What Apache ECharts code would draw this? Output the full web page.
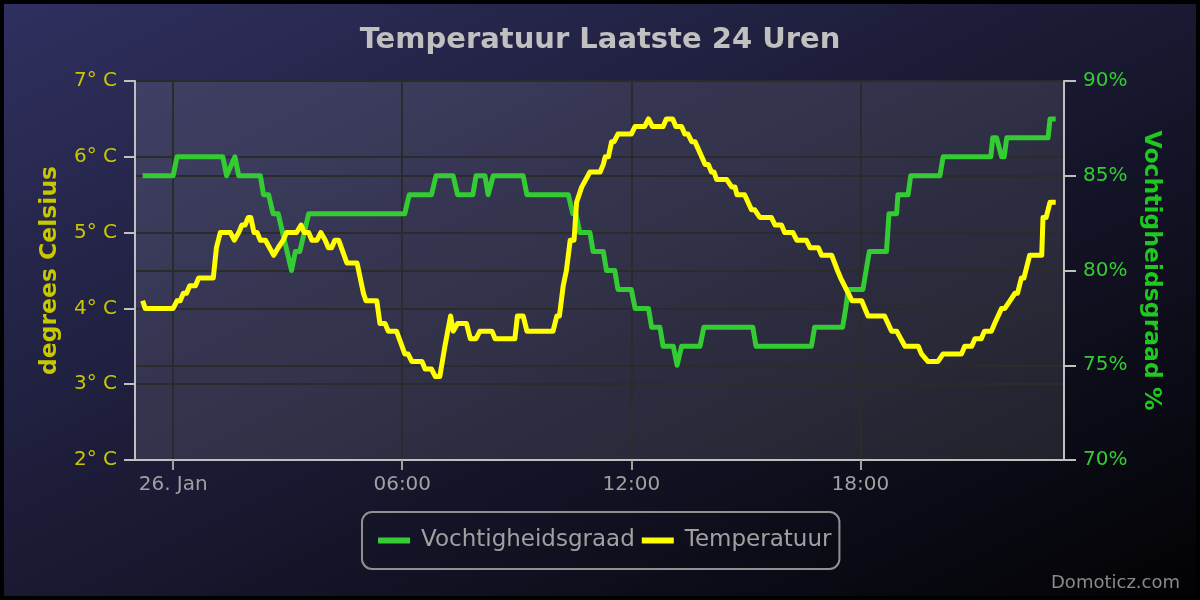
<!DOCTYPE html>
<html><head><meta charset="utf-8">
<script src="https://cdn.jsdelivr.net/npm/echarts@6/dist/echarts.min.js"></script>
<style>html,body{margin:0;padding:0;background:#000}#c{width:1200px;height:600px}</style>
</head><body><div id="c"></div>
<script>
const titleText = 'Temperatuur Laatste 24 Uren';
const creditText = 'Domoticz.com';
const seriesNames = ['Vochtigheidsgraad', 'Temperatuur'];
const leftAxisName = 'degrees Celsius';
const rightAxisName = 'Vochtigheidsgraad %';

// Temperature samples (start 25 Jan 23:12, end 26 Jan 23:07)
const tempTimes = ['23:12','23:16','00:00','00:06','00:11','00:16','00:21','00:26','00:35','00:40','01:03','01:08','01:14','01:30','01:36','01:43','01:48','01:53','01:58','02:02','02:07','02:12','02:17','02:25','02:38','02:45','02:53','02:58','03:14','03:21','03:26','03:33','03:38','03:46','03:52','03:59','04:04','04:09','04:14','04:20','04:33','04:49','04:59','05:03','05:20','05:25','05:33','05:38','05:51','06:04','06:09','06:15','06:31','06:36','06:46','06:52','06:59','07:07','07:10','07:16','07:20','07:27','07:41','07:47','07:56','08:02','08:21','08:26','08:57','09:01','09:10','09:16','09:57','10:03','10:07','10:13','10:18','10:24','10:30','10:34','10:42','10:55','11:11','11:16','11:19','11:24','11:29','11:33','11:39','12:00','12:06','12:21','12:27','12:33','12:50','12:55','13:05','13:10','13:19','13:24','13:29','13:35','13:40','13:56','14:01','14:06','14:10','14:14','14:30','14:38','14:43','14:46','14:58','15:09','15:14','15:22','15:40','15:46','15:56','16:01','16:14','16:20','16:35','16:41','16:54','16:59','17:15','17:24','17:29','17:47','18:02','18:12','18:38','18:49','18:57','19:10','19:31','19:36','19:46','20:02','20:10','20:39','20:44','20:55','21:00','21:10','21:15','21:26','21:31','21:42','21:47','21:55','22:03','22:07','22:13','22:17','22:26','22:45','22:47','22:52','22:58','23:07'];
const tempValues = [4.1,4.0,4.0,4.1,4.1,4.2,4.2,4.3,4.3,4.4,4.4,4.8,5.0,5.0,4.9,5.0,5.1,5.1,5.2,5.2,5.0,5.0,4.9,4.9,4.7,4.8,4.9,5.0,5.0,5.1,5.0,5.0,4.9,4.9,5.0,4.9,4.8,4.8,4.9,4.9,4.6,4.6,4.2,4.1,4.1,3.8,3.8,3.7,3.7,3.4,3.4,3.3,3.3,3.2,3.2,3.1,3.1,3.5,3.5,3.9,3.7,3.8,3.8,3.6,3.6,3.7,3.7,3.6,3.6,3.9,3.9,3.7,3.7,3.9,3.9,4.3,4.5,4.9,4.9,5.4,5.6,5.8,5.8,5.9,6.0,6.0,6.2,6.2,6.3,6.3,6.4,6.4,6.5,6.4,6.4,6.5,6.5,6.4,6.4,6.3,6.3,6.2,6.2,5.9,5.9,5.8,5.8,5.7,5.7,5.6,5.6,5.5,5.5,5.3,5.3,5.2,5.2,5.1,5.1,5.0,5.0,4.9,4.9,4.8,4.8,4.7,4.7,4.5,4.4,4.1,4.1,3.9,3.9,3.7,3.7,3.5,3.5,3.4,3.3,3.3,3.4,3.4,3.5,3.5,3.6,3.6,3.7,3.7,3.8,4.0,4.0,4.1,4.2,4.2,4.4,4.4,4.7,4.7,5.2,5.2,5.4,5.4];

// Humidity samples
const humTimes = ['23:12','00:00','00:06','01:18','01:24','01:37','01:43','02:17','02:22','02:30','02:37','02:45','03:06','03:12','03:19','03:33','06:04','06:11','06:46','06:53','07:20','07:27','07:51','07:56','08:10','08:15','08:23','09:10','09:16','10:21','10:28','10:33','10:39','10:55','11:00','11:16','11:21','11:34','11:39','12:00','12:06','12:27','12:32','12:45','12:50','13:06','13:12','13:19','13:48','13:54','15:11','15:16','16:43','16:48','17:32','17:37','17:41','18:04','18:14','18:41','18:45','18:57','18:59','19:15','19:19','20:05','20:10','21:25','21:28','21:34','21:42','21:46','21:50','22:55','22:58','23:07'];
const humValues = [85,85,86,86,85,86,85,85,84,84,83,83,80,81,81,83,83,84,84,85,85,84,84,85,85,84,85,85,84,84,83,83,82,82,81,81,80,80,79,79,78,78,77,77,76,76,75,76,76,77,77,76,76,77,77,78,79,79,81,81,83,83,84,84,85,85,86,86,87,87,86,86,87,87,88,88];

// Axes (x in minutes from 26 Jan 00:00)
const xMin = -60, xMax = 1400;
const xTickMinutes = [0, 360, 720, 1080];
const xTickLabels = ['26. Jan', '06:00', '12:00', '18:00'];
const tempAxis = {min: 2, max: 7, interval: 1};
const humAxis = {min: 70, max: 90, interval: 5};

function toMinutes(times) {
  let offset = -1440, prev = -1, out = [];
  times.forEach(function (s) {
    const p = s.split(':');
    const m = (+p[0]) * 60 + (+p[1]);
    if (prev >= 0 && m < prev) offset += 1440;
    prev = m;
    out.push(m + offset);
  });
  return out;
}
const tempMin = toMinutes(tempTimes);
const humMin = toMinutes(humTimes);
const tempData = tempMin.map((m, i) => [m, tempValues[i]]);
const humData = humMin.map((m, i) => [m, humValues[i]]);

const FF = 'DejaVu Sans';
const gridColor = '#2b2b2b';
const chart = echarts.init(document.getElementById('c'));
chart.setOption({
  animation: false,
  backgroundColor: {type: 'linear', x: 0, y: 0, x2: 500, y2: 1000, global: true,
    colorStops: [{offset: 0, color: 'rgb(48,48,96)'}, {offset: 1, color: 'rgb(0,0,0)'}]},
  textStyle: {fontFamily: FF},
  title: {text: titleText, left: 'center', top: 26, padding: 0,
    textStyle: {color: '#c0c0c0', fontSize: 29, fontWeight: 'bold', fontFamily: FF}},
  legend: {data: seriesNames, left: 362, top: 512, icon: 'rect', itemWidth: 32, itemHeight: 6, itemGap: 7,
    textStyle: {color: '#a0a0a0', fontSize: 23, fontFamily: FF, padding: [0, 0, 0, 6]},
    borderColor: '#909090', borderWidth: 2, borderRadius: 10, padding: [17, 8, 17, 16]},
  grid: {left: 135, right: 136, top: 81, bottom: 140, show: true,
    backgroundColor: 'rgba(255,255,255,0.1)', borderColor: '#c0c0c0', borderWidth: 2},
  xAxis: {type: 'value', min: xMin, max: xMax,
    axisLine: {show: true, onZero: false, lineStyle: {color: '#c0c0c0', width: 2}},
    axisTick: {show: true, customValues: xTickMinutes, length: 10, lineStyle: {color: '#a0a0a0', width: 2}},
    axisLabel: {customValues: xTickMinutes, formatter: function (v) { const i = xTickMinutes.indexOf(v); return i >= 0 ? xTickLabels[i] : ''; },
      color: '#a0a0a0', fontSize: 20, margin: 15, fontFamily: FF},
    splitLine: {show: true, lineStyle: {color: gridColor, width: 2}}},
  yAxis: [
    {type: 'value', position: 'left', min: tempAxis.min, max: tempAxis.max, interval: tempAxis.interval,
      name: leftAxisName, nameLocation: 'middle', nameGap: 73, nameRotate: 90,
      nameTextStyle: {color: '#c8c800', fontSize: 23.5, fontWeight: 'bold', fontFamily: FF},
      axisLine: {show: true, onZero: false, lineStyle: {color: '#c0c0c0', width: 2}},
      axisTick: {show: true, length: 11, lineStyle: {color: '#c0c0c0', width: 2}},
      axisLabel: {formatter: '{value}° C', color: '#c8c800', fontSize: 20, margin: 18, fontFamily: FF},
      splitLine: {show: true, lineStyle: {color: gridColor, width: 2}}},
    {type: 'value', position: 'right', min: humAxis.min, max: humAxis.max, interval: humAxis.interval,
      name: rightAxisName, nameLocation: 'middle', nameGap: 75, nameRotate: -90,
      nameTextStyle: {color: '#1ec81e', fontSize: 23.5, fontWeight: 'bold', fontFamily: FF},
      axisLine: {show: true, onZero: false, lineStyle: {color: '#c0c0c0', width: 2}},
      axisTick: {show: true, length: 12, lineStyle: {color: '#c0c0c0', width: 2}},
      axisLabel: {formatter: '{value}%', color: '#33cc33', fontSize: 20, margin: 19, fontFamily: FF},
      splitLine: {show: true, lineStyle: {color: gridColor, width: 2}}}
  ],
  series: [
    {name: seriesNames[0], type: 'line', yAxisIndex: 1, data: humData, showSymbol: false, z: 3,
      lineStyle: {color: '#33cc33', width: 5, join: 'round'}, itemStyle: {color: '#33cc33'}},
    {name: seriesNames[1], type: 'line', yAxisIndex: 0, data: tempData, showSymbol: false, z: 4,
      lineStyle: {color: '#ffff00', width: 5, join: 'round'}, itemStyle: {color: '#ffff00'}}
  ],
  graphic: [
    {type: 'text', right: 20, bottom: 8, style: {text: creditText, fill: '#8a8a8a', font: '18px "DejaVu Sans"'}},
    {type: 'rect', silent: true, z: 100, shape: {x: 0, y: 0, width: 1200, height: 600},
      style: {fill: 'rgba(0,0,0,0)', stroke: '#000', lineWidth: 8}}
  ]
});
</script></body></html>
